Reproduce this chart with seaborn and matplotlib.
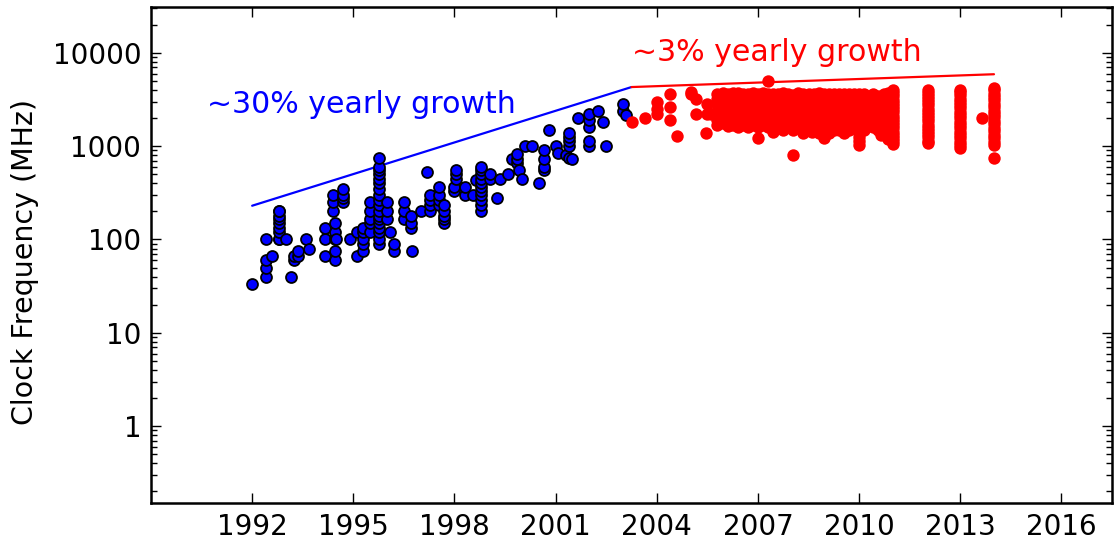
import numpy as np
import pandas as pd
import matplotlib
matplotlib.use("Agg")
import matplotlib.pyplot as plt
from matplotlib.ticker import FixedLocator, FixedFormatter, LogLocator, NullFormatter
import seaborn as sns

# Processor clock frequencies, grouped by release date (year) -> list of MHz values
blue_year = [1992.0, 1992.4, 1992.6, 1992.8, 1993.0, 1993.15, 1993.25, 1993.35, 1993.6, 1993.7,
             1994.15, 1994.4, 1994.45, 1994.5, 1994.7, 1994.9, 1995.1, 1995.3, 1995.5, 1995.75,
             1996.0, 1996.1, 1996.2, 1996.5, 1996.7, 1996.75, 1997.0, 1997.2, 1997.27, 1997.55,
             1997.7, 1998.0, 1998.05, 1998.3, 1998.55, 1998.65, 1998.8, 1999.05, 1999.25, 1999.35,
             1999.6, 1999.7, 1999.85, 1999.9, 2000.0, 2000.1, 2000.3, 2000.5, 2000.65, 2000.8,
             2001.0, 2001.07, 2001.3, 2001.4, 2001.5, 2001.65, 2002.0, 2002.25, 2002.4, 2002.5,
             2003.0, 2003.08]
blue_mhz = [[33], [40, 50, 60, 100], [66], [100, 100, 120, 133, 150, 166, 180, 200, 200], [100],
            [40], [60, 66], [66, 75], [100], [80],
            [66, 100, 133], [200, 250, 300], [60, 75, 100, 120, 150], [100], [250, 275, 300, 350],
            [100], [66, 120], [75, 90, 100, 120, 133], [120, 150, 166, 200, 250],
            [90, 100, 120, 133, 150, 166, 180, 200, 233, 266, 300, 350, 400, 450, 500, 550, 600, 750],
            [166, 200, 250], [120], [75, 90], [166, 200, 250], [133, 150, 180], [75], [200], [533],
            [200, 233, 266, 300], [233, 266, 300, 366],
            [150, 166, 180, 200, 233], [333, 366], [450, 500, 550], [300, 366], [300], [433],
            [200, 233, 266, 300, 333, 366, 400, 450, 500, 550, 600], [450, 500], [275], [450],
            [500], [733], [667, 733, 833], [550], [450], [1000], [1000], [400], [550, 600, 733, 900], [1500],
            [1000], [850], [800], [750, 1000, 1133, 1266, 1400], [733], [2000],
            [1000, 1133, 1600, 1900, 2200], [2400], [1800], [1000],
            [2400, 2800], [2133]]

red_year = [2003.25, 2003.65, 2004.0, 2004.4, 2004.6, 2005.0, 2005.15, 2005.45, 2005.5, 2005.6,
            2005.8, 2005.95, 2006.1, 2006.25, 2006.4, 2006.55, 2006.7, 2006.85, 2007.0, 2007.15,
            2007.3, 2007.45, 2007.6, 2007.75, 2007.9, 2008.05, 2008.2, 2008.35, 2008.5, 2008.6,
            2008.65, 2008.8, 2008.95, 2009.1, 2009.27, 2009.4, 2009.55, 2009.7, 2009.85, 2010.0,
            2010.15, 2010.25, 2010.4, 2010.55, 2010.65, 2010.75, 2010.85, 2011.0, 2012.05, 2013.0,
            2013.65, 2014.0]
red_mhz = [[1800], [2000], [2200, 2500, 3000], [1900, 2600, 3600], [1300], [3600, 3800], [2200, 3200],
           [1400], [2200, 2800], [2200],
           [1700, 1900, 2100, 2400, 2800, 3200, 3600], [1750, 2130, 2400, 2660, 3000, 3400, 3730],
           [1650, 1860, 2130, 2400, 2660, 2930, 3200, 3600], [1700, 2000, 2330, 2660, 3000, 3330, 3700],
           [1600, 1730, 2000, 2260, 2660, 3000, 3330, 3730], [1700, 1900, 2130, 2400, 2660, 2930, 3200, 3600],
           [1600, 1860, 2200, 2500, 2800, 3200, 3650], [1700, 2000, 2330, 2660, 3000, 3330, 3700],
           [1220, 1600, 1860, 2130, 2400, 2660, 3000, 3200, 3600], [1700, 1860, 2330, 2660, 3000, 3400, 3700],
           [1600, 1860, 2200, 2400, 2660, 3000, 3200, 3600, 5000], [1425, 1730, 2000, 2330, 2660, 3000, 3600],
           [1600, 1860, 2130, 2400, 2660, 2930, 3200, 3600], [1500, 1730, 2000, 2330, 2660, 3000, 3330, 3700],
           [1600, 1860, 2130, 2400, 2800, 3200, 3600], [800, 1500, 1700, 1860, 2200, 2500, 2830, 3160, 3500],
           [1600, 1730, 2000, 2330, 2660, 3000, 3330, 3700], [1400, 1600, 1860, 2130, 2400, 2660, 2930, 3200, 3600],
           [1500, 1730, 2000, 2330, 2660, 3000, 3330, 3600], [1425],
           [1600, 1860, 2130, 2400, 2800, 3200, 3600], [1400, 1600, 1730, 2000, 2330, 2660, 3000, 3330, 3700],
           [1210, 1600, 1860, 2130, 2400, 2660, 3000, 3300, 3600], [1400, 1600, 2000, 2330, 2660, 3000, 3330, 3600],
           [1490, 1700, 1860, 2130, 2400, 2660, 2930, 3200, 3600], [1500, 1730, 2000, 2330, 2660, 3000, 3330, 3600],
           [1400, 1600, 1860, 2130, 2400, 2660, 3000, 3300, 3650], [1500, 1730, 2000, 2330, 2660, 3000, 3330, 3600],
           [1600, 1860, 2130, 2400, 2800, 3200, 3600],
           [1025, 1130, 1260, 1400, 1600, 1860, 2130, 2400, 2660, 3000, 3330, 3650],
           [1500, 1700, 2000, 2330, 2660, 3000, 3330, 3600], [1825, 2130, 2400, 2800, 3300],
           [1600, 1900, 2300, 2660, 3000, 3330, 3600],
           [1500, 1700, 2000, 2330, 2660, 3000, 3460], [1313, 1600, 1860, 2130, 2500, 3000],
           [1400, 1700, 2000, 2400, 2800, 3200, 3600], [1200, 1400, 1600, 1900, 2200, 2600, 3000, 3400, 3700],
           [1050, 1130, 1220, 1320, 1430, 1550, 1680, 1820, 1970, 2130, 2300, 2490, 2700, 2920, 3160,
            3420, 3700, 4000],
           [1070, 1150, 1240, 1340, 1450, 1570, 1700, 1840, 1990, 2150, 2330, 2520, 2730, 2950, 3190,
            3450, 3730, 4000],
           [950, 1030, 1120, 1220, 1320, 1430, 1560, 1690, 1830, 1990, 2160, 2340, 2540, 2760, 2990,
            3240, 3520, 3800, 4000],
           [2000],
           [750, 1030, 1120, 1220, 1330, 1450, 1580, 1720, 1870, 2030, 2210, 2400, 2610, 2840, 3090,
            3360, 3650, 3970, 4200]]

# Trend lines: ~30% growth per year, then ~3% per year
trend30_year = [1992.0, 2003.25]
trend30_mhz = [230, 4300]
trend3_year = [2003.25, 2014.0]
trend3_mhz = [4300, 5900]

xtick_years = [1992, 1995, 1998, 2001, 2004, 2007, 2010, 2013, 2016]
ytick_vals = [1, 10, 100, 1000, 10000]
ytick_labels = ["1", "10", "100", "1000", "10000"]


def expand(years, values):
    xs, ys = [], []
    for yr, vals in zip(years, values):
        for v in vals:
            xs.append(yr)
            ys.append(v)
    return pd.DataFrame({"year": xs, "mhz": ys})


blue_df = expand(blue_year, blue_mhz)
red_df = expand(red_year, red_mhz)
t30 = pd.DataFrame({"year": trend30_year, "mhz": trend30_mhz})
t3 = pd.DataFrame({"year": trend3_year, "mhz": trend3_mhz})

sns.set_style("ticks")
plt.rcParams["font.family"] = ["DejaVu Sans"]
plt.rcParams.update({"text.color": "black", "axes.labelcolor": "black",
                     "xtick.color": "black", "ytick.color": "black",
                     "axes.edgecolor": "black"})

fig = plt.figure(figsize=(11.14, 5.41), dpi=100)
ax = fig.add_axes([151 / 1114, 38 / 541, 961 / 1114, 496 / 541])
ax.set_yscale("log")

sns.lineplot(data=t30, x="year", y="mhz", color="blue", lw=1.6, ax=ax)
sns.lineplot(data=t3, x="year", y="mhz", color="red", lw=1.6, ax=ax)
sns.scatterplot(data=blue_df, x="year", y="mhz", color="blue", edgecolor="black",
                linewidth=1.3, s=62, ax=ax, zorder=3)
sns.scatterplot(data=red_df, x="year", y="mhz", color="red", edgecolor="red",
                linewidth=0, s=80, ax=ax, zorder=3)

ax.text(1990.67, 2830, "~30% yearly growth", color="blue", fontsize=21.6,
        ha="left", va="center")
ax.text(2003.25, 10000, "~3% yearly growth", color="red", fontsize=21.6,
        ha="left", va="center")

ax.set_xlim(1989, 2017.5)
ax.set_ylim(0.15, 31000)
ax.xaxis.set_major_locator(FixedLocator(xtick_years))
ax.set_xticklabels([str(y) for y in xtick_years])
ax.yaxis.set_major_locator(FixedLocator(ytick_vals))
ax.yaxis.set_major_formatter(FixedFormatter(ytick_labels))
ax.yaxis.set_minor_locator(LogLocator(base=10, subs=np.arange(2, 10), numticks=20))
ax.yaxis.set_minor_formatter(NullFormatter())

ax.set_xlabel("")
ax.set_ylabel("Clock Frequency (MHz)", fontsize=20.5)
ax.yaxis.set_label_coords(-0.1165, 0.486)
ax.tick_params(axis="both", which="both", direction="in", top=True, right=True,
               labelsize=20, color="black", labelcolor="black")
ax.tick_params(axis="x", which="major", length=7, width=1, pad=7)
ax.tick_params(axis="y", which="major", length=7, width=1, pad=7)
ax.tick_params(axis="y", which="minor", length=4, width=1)
for sp in ax.spines.values():
    sp.set_linewidth(1.8)
    sp.set_color("black")

fig.savefig("out.png", dpi=100)
